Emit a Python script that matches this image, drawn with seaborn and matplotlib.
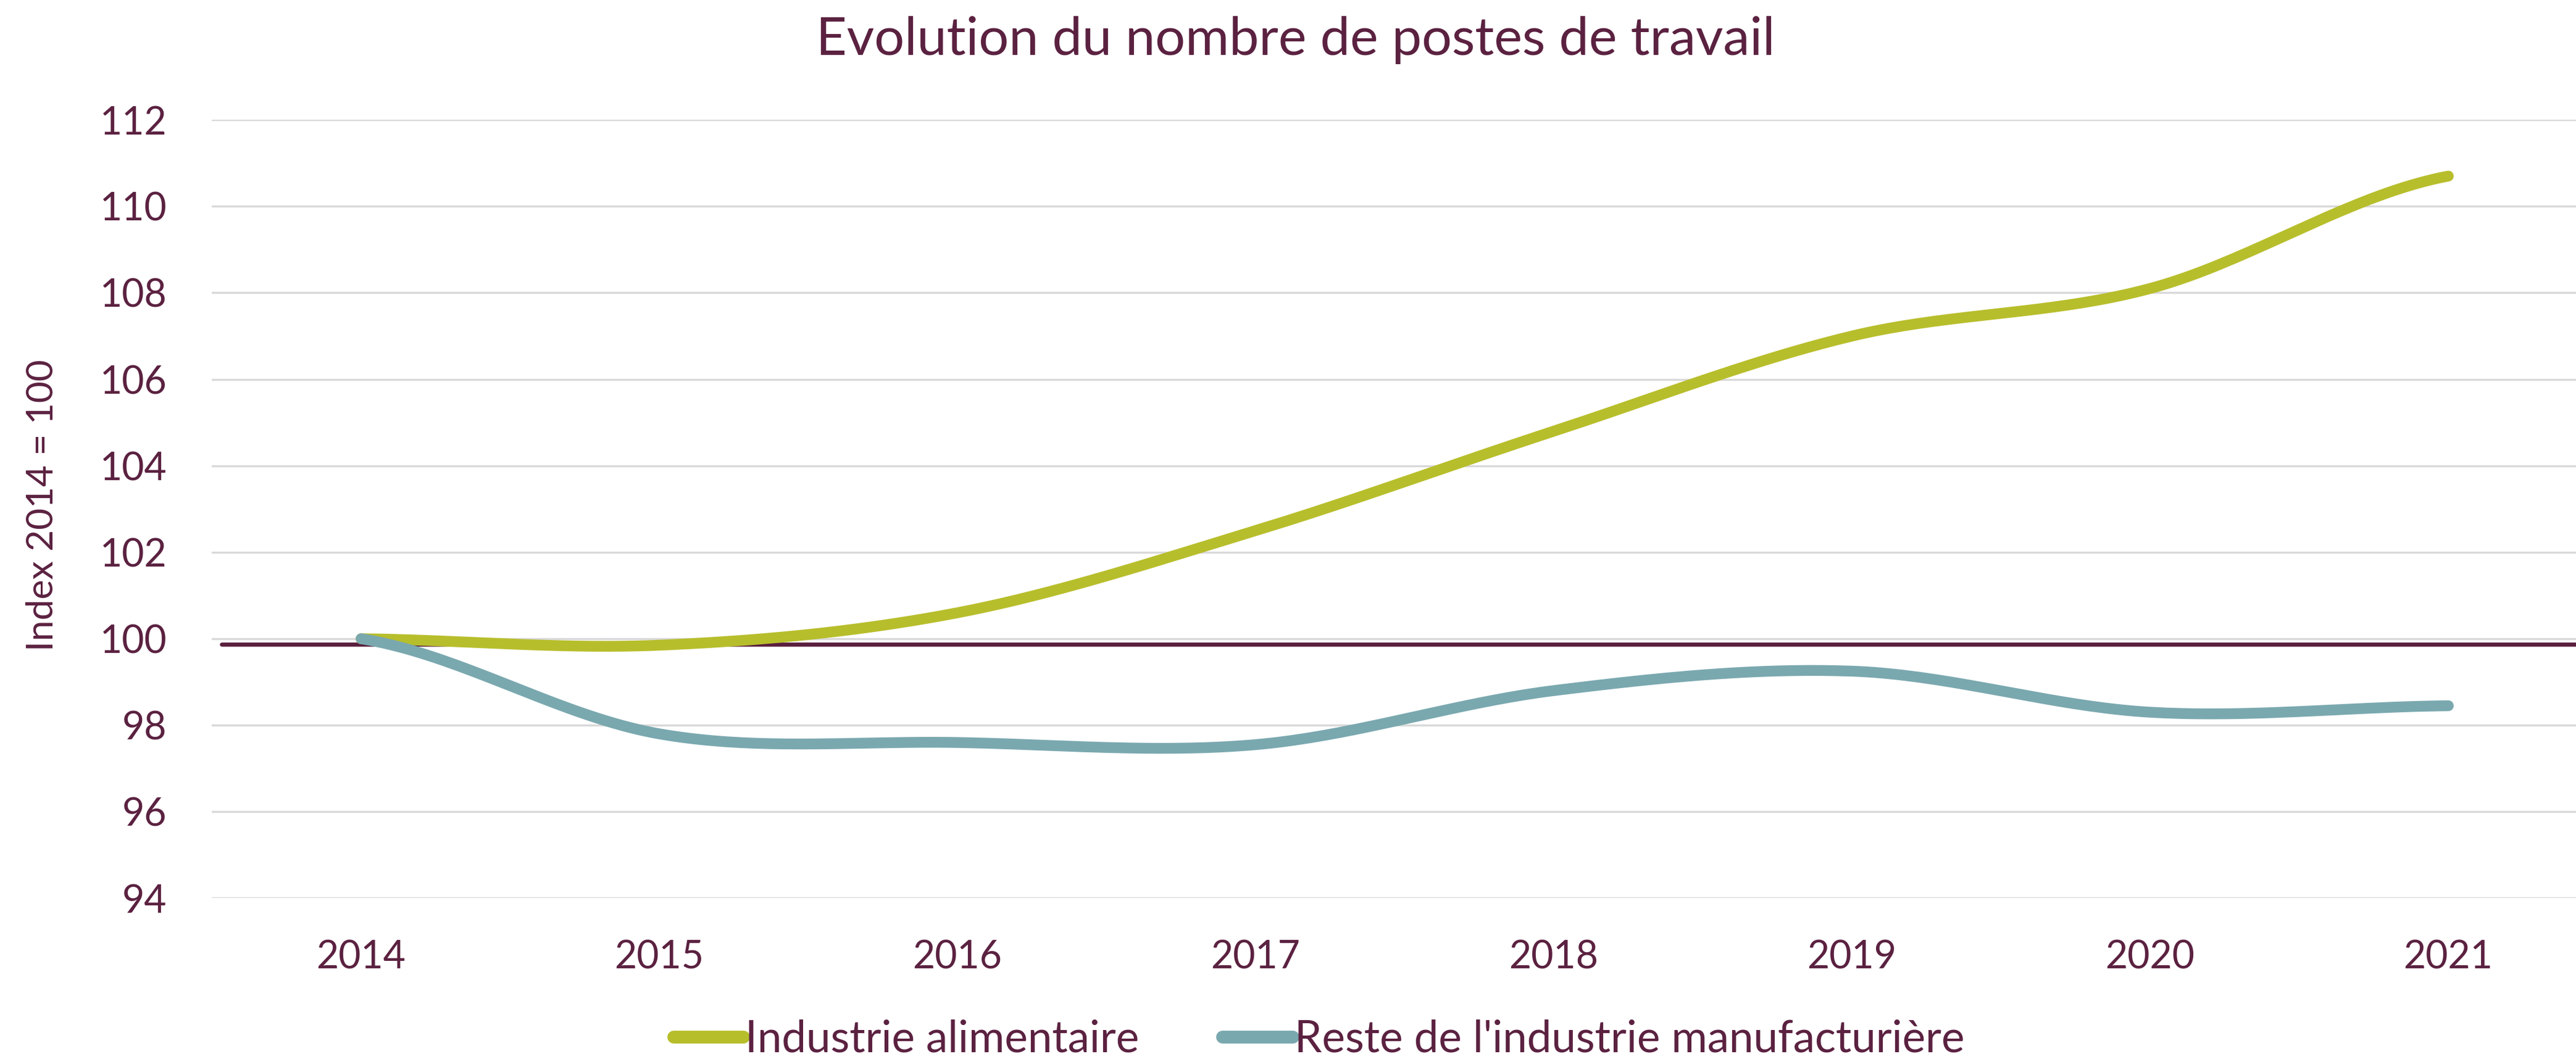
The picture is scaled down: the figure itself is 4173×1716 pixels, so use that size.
import numpy as np
import pandas as pd
import matplotlib
matplotlib.use("Agg")
import matplotlib.pyplot as plt
import seaborn as sns

# data (index 2014 = 100)
years = ["2014", "2015", "2016", "2017", "2018", "2019", "2020", "2021"]
alimentaire = [100.0, 99.85, 100.6, 102.5, 104.8, 107.0, 108.1, 110.7]
reste = [100.0, 97.8, 97.6, 97.55, 98.8, 99.25, 98.3, 98.45]
series_names = ["Industrie alimentaire", "Reste de l'industrie manufacturière"]
y_ticks = [94, 96, 98, 100, 102, 104, 106, 108, 110, 112]
ref_level = 99.87

TEXT = "#5B2140"
COLORS = ["#B7BE2B", "#7AA8AF"]


def smooth(values, n=40):
    # Excel-like smoothed line: Catmull-Rom through the points
    v = np.asarray(values, dtype=float)
    p = np.concatenate([[v[0]], v, [v[-1]]])
    xs, ys = [], []
    for i in range(len(v) - 1):
        p0, p1, p2, p3 = p[i], p[i + 1], p[i + 2], p[i + 3]
        t = np.linspace(0, 1, n, endpoint=(i == len(v) - 2))
        y = 0.5 * ((2 * p1) + (-p0 + p2) * t
                   + (2 * p0 - 5 * p1 + 4 * p2 - p3) * t ** 2
                   + (-p0 + 3 * p1 - 3 * p2 + p3) * t ** 3)
        xs.append(i + t)
        ys.append(y)
    return np.concatenate(xs), np.concatenate(ys)


frames = []
for name, vals in zip(series_names, [alimentaire, reste]):
    x, y = smooth(vals)
    frames.append(pd.DataFrame({"x": x, "value": y, "serie": name}))
df = pd.concat(frames, ignore_index=True)

sns.set_theme(style="white")
plt.rcParams["font.family"] = ["Lato", "DejaVu Sans"]

fig = plt.figure(figsize=(4173 / 300, 1716 / 300), dpi=300)
ax = fig.add_axes([0.0823, 0.1519, 0.926, 0.7349])

for yt in y_ticks:
    ax.axhline(yt, color="#D9D9D9", lw=0.8, zorder=0)
ax.axhline(ref_level, xmin=0.004, color="#5A1E3D", lw=1.6, zorder=1)

sns.lineplot(data=df, x="x", y="value", hue="serie", palette=COLORS,
             linewidth=4.2, ax=ax, legend=False, sort=False, zorder=3)
for line in ax.get_lines():
    line.set_solid_capstyle("round")

ax.set_xlim(-0.5, len(years) - 0.5)
ax.set_ylim(94, 112)
ax.set_xticks(range(len(years)))
ax.set_xticklabels(years)
ax.set_yticks(y_ticks)
ax.tick_params(axis="both", length=0, labelsize=15, labelcolor=TEXT)
ax.tick_params(axis="x", pad=16)
ax.tick_params(axis="y", pad=17.5)
for s in ax.spines.values():
    s.set_visible(False)
ax.set_xlabel("")
ax.set_ylabel("Index 2014 = 100", fontsize=14.5, color=TEXT)
ax.yaxis.set_label_coords(-0.064, 0.505)

fig.text(0.503, 0.962, "Evolution du nombre de postes de travail",
         ha="center", va="center", fontsize=20.7, color=TEXT)

handles = [plt.Line2D([], [], color=c, lw=5, solid_capstyle="round") for c in COLORS]
leg = fig.legend(handles, series_names, loc="center", bbox_to_anchor=(0.512, 0.0186),
                 ncol=2, frameon=False, fontsize=17, handlelength=1.6,
                 handletextpad=0.05, columnspacing=1.9, borderaxespad=0, borderpad=0)
for t in leg.get_texts():
    t.set_color(TEXT)

fig.savefig("out.png", dpi=300)
